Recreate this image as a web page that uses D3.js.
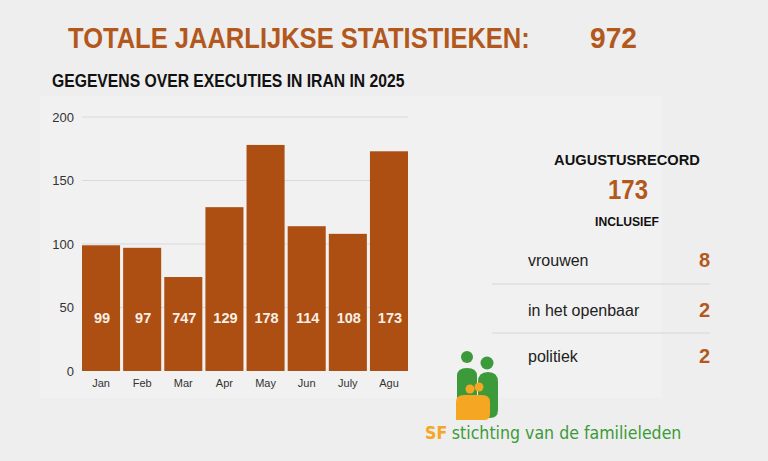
<!DOCTYPE html>
<html><head><meta charset="utf-8">
<script src="https://cdn.jsdelivr.net/npm/d3@7"></script>
<style>
html,body{margin:0;padding:0;background:#eeeeee;}
svg{display:block;}
</style></head>
<body>
<svg id="chart" width="768" height="461"></svg>
<script>
const months = ["Jan","Feb","Mar","Apr","May","Jun","July","Agu"];
const values = [99, 97, 74, 129, 178, 114, 108, 173];
const valueLabels = ["99","97","747","129","178","114","108","173"];
const yTicks = [0, 50, 100, 150, 200];
const totalLabel = "972";
const recordValue = "173";
const inclRows = ["vrouwen","in het openbaar","politiek"];
const inclValues = [8, 2, 2];

const orange = "#b3581d";
const barColor = "#ad4f12";
const svg = d3.select("#chart");

svg.append("rect").attr("x",0).attr("y",0).attr("width",768).attr("height",461).attr("fill","#eeeeee");
svg.append("rect").attr("x",40).attr("y",96).attr("width",622).attr("height",302).attr("fill","#f1f1f1");

const condensed = "'Liberation Sans',Arial,sans-serif";

// text with horizontal squeeze, fitted to a target width
function squeezed(parent, x, y, txt, size, color, targetW, anchor) {
  const g = parent.append("g");
  const t = g.append("text").attr("font-family",condensed).attr("font-weight","bold")
    .attr("font-size",size).attr("fill",color).attr("text-anchor",anchor||"start").text(txt);
  const w = t.node().getComputedTextLength();
  const s = targetW / w;
  g.attr("transform",`translate(${x},${y}) scale(${s},1)`);
  return g;
}

squeezed(svg, 68, 48, "TOTALE JAARLIJKSE STATISTIEKEN:", 30, orange, 462);
squeezed(svg, 590, 48, totalLabel, 30, orange, 47);
squeezed(svg, 52, 87, "GEGEVENS OVER EXECUTIES IN IRAN IN 2025", 18, "#111", 353);

// chart
const x = d3.scaleBand().domain(months).range([82,408]).paddingInner(0.075).paddingOuter(0.0);
const y = d3.scaleLinear().domain([0,200]).range([371,117]);

const grid = svg.append("g");
grid.selectAll("line").data(yTicks.filter(d=>d>0)).join("line")
  .attr("x1",82).attr("x2",408).attr("y1",d=>y(d)).attr("y2",d=>y(d))
  .attr("stroke","#d9d9d9").attr("stroke-width",1);

const yAxis = svg.append("g").attr("transform","translate(74,0)")
  .call(d3.axisLeft(y).tickValues(yTicks).tickSize(0).tickPadding(0));
yAxis.select(".domain").remove();
yAxis.selectAll("text").attr("font-family","'Liberation Sans',Arial,sans-serif")
  .attr("font-size",13).attr("fill","#333");

svg.append("g").selectAll("rect").data(values).join("rect")
  .attr("x",(d,i)=>x(months[i])).attr("width",x.bandwidth())
  .attr("y",d=>y(d)).attr("height",d=>y(0)-y(d))
  .attr("fill",barColor);

svg.append("g").selectAll("text").data(valueLabels).join("text")
  .attr("x",(d,i)=>x(months[i])+x.bandwidth()/2+1).attr("y",323)
  .attr("text-anchor","middle").attr("font-family","'Liberation Sans',Arial,sans-serif")
  .attr("font-weight","bold").attr("font-size",14.5).attr("fill","#f8efe8")
  .text(d=>d);

const xAxis = svg.append("g").attr("transform","translate(0,371)")
  .call(d3.axisBottom(x).tickSize(0).tickPadding(8));
xAxis.select(".domain").remove();
xAxis.selectAll("text").attr("font-family","'Liberation Sans',Arial,sans-serif")
  .attr("font-size",11).attr("fill","#333");

// right panel
squeezed(svg, 627, 165, "AUGUSTUSRECORD", 15, "#111", 146, "middle");
squeezed(svg, 628, 199, recordValue, 27, orange, 40, "middle");
squeezed(svg, 627, 226, "INCLUSIEF", 12, "#111", 64, "middle");

const rowY = [266, 316, 362];
const rows = svg.append("g");
rows.selectAll("text.lbl").data(inclRows).join("text").attr("class","lbl")
  .attr("x",528).attr("y",(d,i)=>rowY[i])
  .attr("font-family","'Liberation Sans',Arial,sans-serif").attr("font-size",16).attr("fill","#222")
  .text(d=>d);
rows.selectAll("text.val").data(inclValues).join("text").attr("class","val")
  .attr("x",710).attr("y",(d,i)=>rowY[i]+1).attr("text-anchor","end")
  .attr("font-family","'Liberation Sans',Arial,sans-serif").attr("font-weight","bold")
  .attr("font-size",20).attr("fill",orange)
  .text(d=>d);
rows.selectAll("line").data([284,333]).join("line")
  .attr("x1",492).attr("x2",710).attr("y1",d=>d).attr("y2",d=>d)
  .attr("stroke","#d6d6d6").attr("stroke-width",1);

// logo
const green = "#3c9a3a", amber = "#f5a623";
const logo = svg.append("g");
logo.append("circle").attr("cx",467).attr("cy",357).attr("r",6).attr("fill",green);
logo.append("circle").attr("cx",487).attr("cy",363).attr("r",6.5).attr("fill",green);
logo.append("path").attr("d","M457,376 Q457,368 467,368 Q477,368 477,376 L477,405 L457,405 Z").attr("fill",green);
logo.append("path").attr("d","M478,382 Q478,372 488,372 Q498,372 498,382 L498,410 Q498,418 490,418 L478,418 Z").attr("fill",green);
logo.append("circle").attr("cx",470).attr("cy",389).attr("r",4.5).attr("fill",amber);
logo.append("circle").attr("cx",479).attr("cy",387).attr("r",4.5).attr("fill",amber);
logo.append("path").attr("d","M456,402 Q456,395 464,395 L482,395 Q490,395 490,402 L490,414 Q490,420 484,420 L456,420 Z").attr("fill",amber);

const logoG = svg.append("g");
const logoText = logoG.append("text")
  .attr("font-family","'DejaVu Sans',sans-serif").attr("font-size",17);
logoText.append("tspan").attr("font-weight","bold").attr("fill",amber).text("SF");
logoText.append("tspan").attr("fill","#3c9a3a").attr("dx",5).text("stichting van de familieleden");
const lw = logoText.node().getComputedTextLength();
logoG.attr("transform",`translate(425,439) scale(${252/lw},1)`);
</script>
</body></html>
